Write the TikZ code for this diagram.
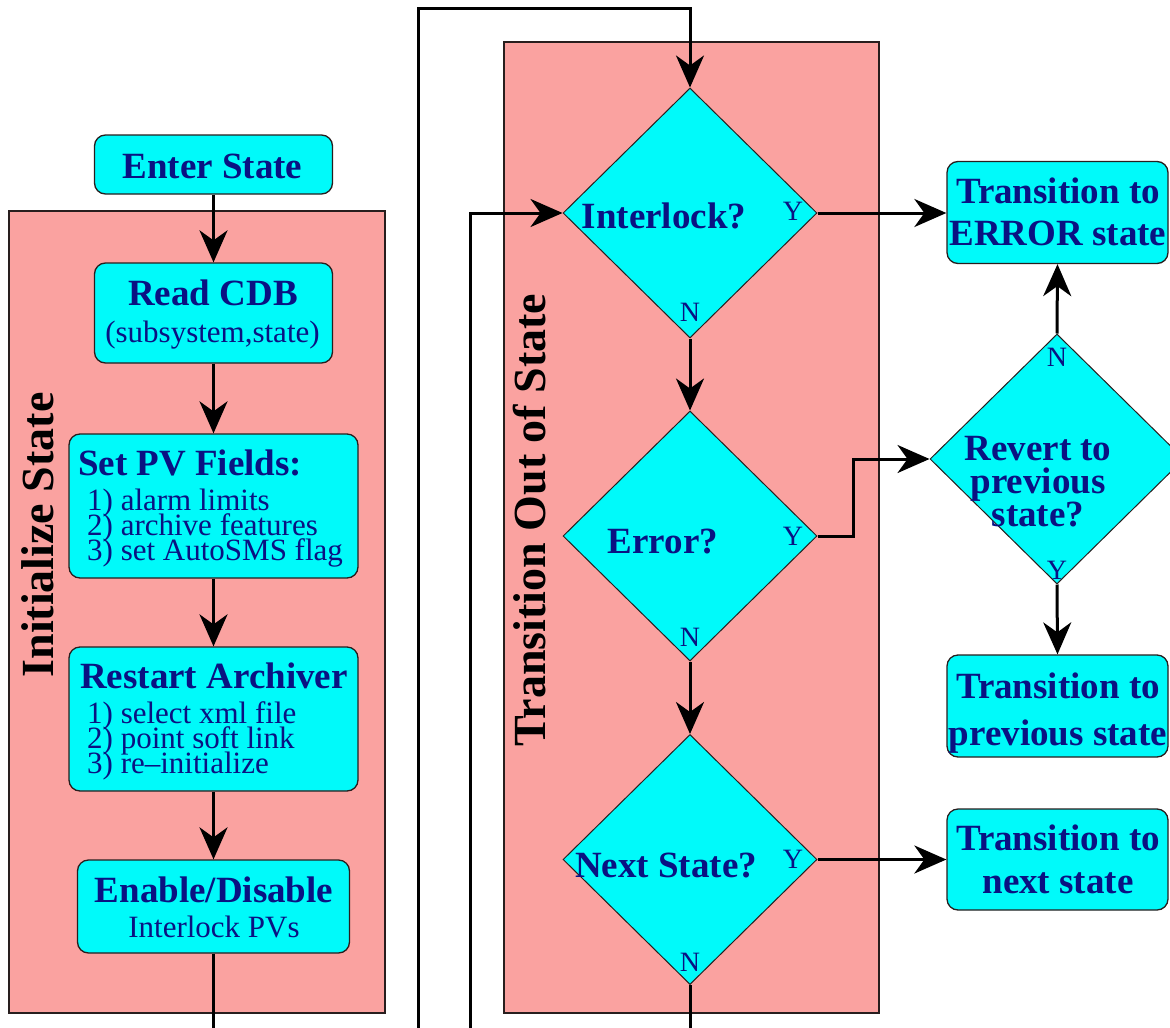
\documentclass[tikz,border=0pt]{standalone}
\usepackage{fontspec}
\setmainfont{Liberation Serif}
\usetikzlibrary{shapes.geometric,arrows.meta}
\definecolor{boxcyan}{RGB}{0,250,250}
\definecolor{panelpink}{RGB}{250,162,160}
\definecolor{txtnavy}{RGB}{10,18,130}
\definecolor{edgedark}{RGB}{40,30,30}
% lines stacked with a fixed baseline distance; the box baseline is the first line's
\newcommand{\linesC}[2]{\vtop{\baselineskip=#1\lineskiplimit=-100pt\lineskip=0pt\halign{\hfil##\hfil\cr#2\crcr}}}
\newcommand{\linesL}[2]{\vtop{\baselineskip=#1\lineskiplimit=-100pt\lineskip=0pt\halign{##\hfil\cr#2\crcr}}}
\tikzset{
  panel/.style={draw=edgedark, line width=1.3pt, fill=panelpink},
  procbox/.style={draw=edgedark, line width=1.3pt, fill=boxcyan, rounded corners=11pt, inner sep=0pt},
  decision/.style={diamond, draw=edgedark, line width=1pt, fill=boxcyan, inner sep=0pt, minimum width=254pt, minimum height=250pt},
  hdr/.style={font=\fontsize{37}{42}\selectfont\bfseries, text=txtnavy, inner sep=0pt, anchor=base},
  sub/.style={font=\fontsize{31}{25}\selectfont, text=txtnavy, inner sep=0pt, anchor=base},
  yn/.style={font=\fontsize{28}{30}\selectfont, text=txtnavy, inner sep=0pt},
  sidelabel/.style={font=\fontsize{46}{50}\selectfont\bfseries, text=black, rotate=90, inner sep=0pt},
  flow/.style={line width=3pt, draw=black},
  arr/.style={flow, -{Stealth[length=32pt,width=28pt,inset=10pt]}},
}
\begin{document}
\begin{tikzpicture}[x=1pt,y=-1pt]
\useasboundingbox (0,0) rectangle (1170,1028);
\fill[white] (0,0) rectangle (1170,1028);
\clip (0,0) rectangle (1170,1028);

% panels
\path[panel] (9,211) rectangle (385,1013);
\path[panel] (504,42) rectangle (879,1013);
\node[sidelabel] (initlabel) at (37.5,535) {Initialize State};
\node[sidelabel] (translabel) at (530,520) {Transition Out of State};

% left column boxes
\node[procbox, minimum width=238pt, minimum height=59pt] (enter) at (213.5,164.5) {};
\node[procbox, minimum width=238pt, minimum height=100pt] (readcdb) at (213.5,313) {};
\node[procbox, minimum width=289pt, minimum height=144pt] (setpv) at (213.5,506) {};
\node[procbox, minimum width=289pt, minimum height=144pt] (restart) at (213.5,719) {};
\node[procbox, minimum width=272pt, minimum height=93pt] (enable) at (213.5,906.5) {};

\node[hdr] (enter-t) at (212.5,178) {Enter State};
\node[hdr] (readcdb-t) at (213,305) {Read CDB};
\node[sub] (readcdb-s) at (212.5,342) {(subsystem,state)};
\node[hdr, anchor=base west] (setpv-t) at (78,475) {Set PV Fields:};
\node[sub, anchor=base west] (setpv-list) at (87,510)
  {\linesL{25pt}{1) alarm limits\cr 2) archive features\cr 3) set AutoSMS flag}};
\node[hdr, anchor=base west] (restart-t) at (80,688) {Restart Archiver};
\node[sub, anchor=base west] (restart-list) at (87,723)
  {\linesL{25pt}{1) select xml file\cr 2) point soft link\cr 3) re–initialize}};
\node[hdr] (enable-t) at (214,902) {Enable/Disable};
\node[sub] (enable-s) at (214,937) {Interlock PVs};

% decisions
\node[decision] (interlock) at (690,213) {};
\node[decision] (error) at (690,536) {};
\node[decision] (nextst) at (690,859.5) {};
\node[decision] (revert) at (1057,459) {};

\node[hdr] (interlock-t) at (664,228) {Interlock?};
\node[hdr] (error-t) at (663,553) {Error?};
\node[hdr] (nextst-t) at (666,877) {Next State?};
\node[hdr] (revert-t) at (1038,460) {\linesC{33pt}{Revert to\cr previous\cr state?}};

\node[yn] (interlock-y) at (793,211) {Y};
\node[yn] (interlock-n) at (690,312) {N};
\node[yn] (error-y) at (793,536) {Y};
\node[yn] (error-n) at (690,637) {N};
\node[yn] (nextst-y) at (793,859) {Y};
\node[yn] (nextst-n) at (690,962) {N};
\node[yn] (revert-n) at (1057,357) {N};
\node[yn] (revert-y) at (1057,570) {Y};

% right boxes
\node[procbox, minimum width=221pt, minimum height=102pt] (errbox) at (1057.5,212.5) {};
\node[procbox, minimum width=221pt, minimum height=102pt] (prevbox) at (1057.5,706) {};
\node[procbox, minimum width=221pt, minimum height=101pt] (nextbox) at (1057.5,859.5) {};

\node[hdr] (errbox-t) at (1058,203) {\linesC{42pt}{Transition to\cr ERROR state}};
\node[hdr] (prevbox-t) at (1058,698) {\linesC{47pt}{Transition to\cr previous state}};
\node[hdr] (nextbox-t) at (1058,850) {\linesC{43pt}{Transition to\cr next state}};

% connectors
\coordinate (exit1) at (213.5,1040);
\coordinate (loopA) at (418,1040);
\coordinate (topleft) at (418,8);
\coordinate (loopB) at (470,1040);
\coordinate (exit4) at (690,1040);

\draw[arr] (enter) -- (readcdb);
\draw[arr] (readcdb) -- (setpv);
\draw[arr] (setpv) -- (restart);
\draw[arr] (restart) -- (enable);
\draw[flow] (enable.south) -- (exit1);

\draw[arr] (loopA) -- (topleft) -| (interlock.north);
\draw[arr] (loopB) |- (interlock.west);
\draw[arr] (interlock.south) -- (error.north);
\draw[arr] (error.south) -- (nextst.north);
\draw[arr] (interlock.east) -- (interlock.east -| errbox.west);
\draw[arr] (error.east) -- ++(36,0) |- (revert.west);
\draw[arr] (revert.north) -- (errbox.south);
\draw[arr] (revert.south) -- (prevbox.north);
\draw[arr] (nextst.east) -- (nextst.east -| nextbox.west);
\draw[flow] (nextst.south) -- (exit4);
\end{tikzpicture}
\end{document}
